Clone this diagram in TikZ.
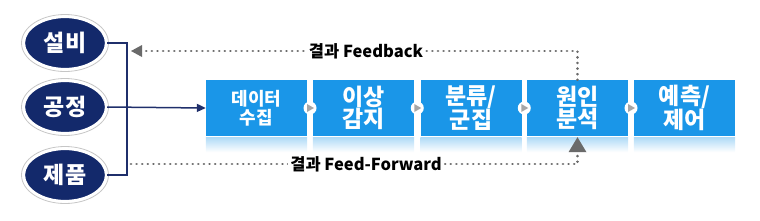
\documentclass[tikz,border=0pt]{standalone}
\usepackage{fontspec}
\setmainfont{Noto Sans CJK KR}
\usetikzlibrary{arrows.meta,shapes.geometric,calc}
\definecolor{navy}{HTML}{13296B}
\definecolor{navyc}{HTML}{1F2F6B}
\definecolor{boxblue}{HTML}{1A96E8}
\definecolor{dotgray}{HTML}{6A6A6A}
\tikzset{
  src/.style={ellipse, fill=navy, draw=white, line width=2.2pt, minimum width=82pt, minimum height=52pt, inner sep=0pt,
    text=white, font=\fontsize{23}{23}\selectfont\bfseries},
  srcring/.style={ellipse, draw=gray!45, line width=0.8pt, minimum width=87pt, minimum height=57pt, inner sep=0pt},
  stepbox/.style={rectangle, fill=boxblue, minimum width=101pt, minimum height=56pt, inner sep=0pt,
    text=white, align=center, font=\fontsize{23}{21}\selectfont\bfseries},
  dotline/.style={draw=dotgray, line width=2.8pt, line cap=round, dash pattern=on 0.01pt off 5.6pt},
  bracketline/.style={draw=navyc, line width=1.5pt},
  lbl/.style={fill=white, inner sep=2pt, font=\fontsize{16.5}{16.5}\selectfont\bfseries, text=black},
}
\begin{document}
\begin{tikzpicture}[x=1pt,y=-1pt]
\useasboundingbox (0,0) rectangle (760,220);
% source ellipses
\foreach \n/\y in {r1/43, r2/107, r3/175} \node[srcring] at (65,\y) {};
\node[src] (s1) at (65,43) {설비};
\node[src] (s2) at (65,107) {공정};
\node[src] (s3) at (65,175) {제품};
% steps
\node[stepbox, font=\fontsize{18}{19}\selectfont\bfseries] (b1) at (256.5,108) {데이터\\수집};
\node[stepbox] (b2) at (363.5,108) {이상\\감지};
\node[stepbox] (b3) at (471,108) {분류/\\군집};
\node[stepbox] (b4) at (577.5,108) {원인\\분석};
\node[stepbox] (b5) at (684.5,108) {예측/\\제어};
% reflections
\foreach \b in {b1,b2,b3,b4,b5}
  \shade[top color=boxblue!35, bottom color=white] ($(\b.south west)+(0,1)$) rectangle ($(\b.south east)+(0,16)$);
% connectors between steps
\foreach \a/\b in {b1/b2, b2/b3, b3/b4, b4/b5} {
  \coordinate (m) at ($(\a.east)!0.5!(\b.west)$);
  \fill[white] (m) circle (6.5pt);
  \fill[gray!70] ($(m)+(-3,-4)$) -- ($(m)+(4,0)$) -- ($(m)+(-3,4)$) -- cycle;
}
% bracket
\coordinate (jt) at (127,43);
\coordinate (jb) at (127,175);
\draw[bracketline] (s1.east) -- (jt) -- (jb) -- (s3.east);
\draw[bracketline, -{Triangle[length=9pt,width=8pt]}] (s2.east) -- (b1.west);
% feedback
\coordinate (fbtop) at (b4.north |- 0,51);
\coordinate (fbend) at (140,51);
\draw[dotline] (b4.north) -- (fbtop) -- (fbend);
\fill[dotgray] (131,51) -- ++(11,-6) -- ++(0,12) -- cycle;
\node[lbl] (fbl) at (366,51) {결과 Feedback};
% feed-forward
\coordinate (ffs) at (131,164);
\coordinate (ffc) at (b4.south |- 0,164);
\draw[dotline] (ffs) -- (ffc) -- ($(b4.south)+(0,14)$);
\fill[dotgray] ($(b4.south)+(0,1)$) -- ++(-9,15) -- ++(18,0) -- cycle;
\node[lbl] (ffl) at (366,164) {결과 Feed-Forward};
\end{tikzpicture}
\end{document}
